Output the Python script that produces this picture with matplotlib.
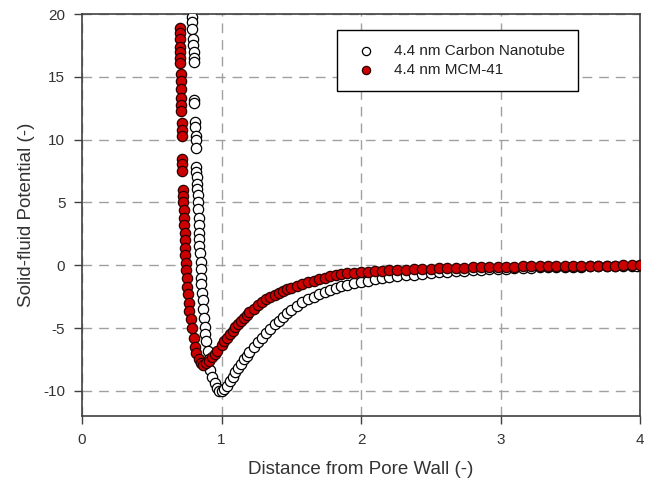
import numpy as np
import matplotlib.pyplot as plt

plt.rcParams['font.family'] = ['Liberation Sans', 'DejaVu Sans']
plt.rcParams['axes.unicode_minus'] = False

# 4.4 nm Carbon Nanotube (open circles)
cnt_x = [0.79, 0.79, 0.79, 0.795, 0.795, 0.80, 0.80, 0.80,
         0.805, 0.805,
         0.81, 0.81, 0.815, 0.815, 0.815,
         0.82, 0.82, 0.825, 0.825, 0.825, 0.83, 0.83, 0.83, 0.835, 0.835,
         0.84, 0.84, 0.84, 0.845, 0.85, 0.85, 0.855, 0.855, 0.86, 0.865,
         0.87, 0.875, 0.88, 0.885, 0.89, 0.90, 0.91, 0.92, 0.935, 0.95,
         0.965, 0.98,
         1.00, 1.02, 1.04, 1.06, 1.08, 1.10, 1.12, 1.14, 1.16, 1.18,
         1.20, 1.23, 1.26, 1.29, 1.32, 1.35, 1.38, 1.41, 1.44, 1.47,
         1.50, 1.54, 1.58, 1.62, 1.66, 1.70, 1.74, 1.78, 1.82, 1.86,
         1.90, 1.95, 2.00, 2.05, 2.10, 2.15, 2.20, 2.26, 2.32, 2.38,
         2.44, 2.50, 2.56, 2.62, 2.68, 2.74, 2.80, 2.86, 2.92, 2.98,
         3.04, 3.10, 3.16, 3.22, 3.28, 3.34, 3.40, 3.46, 3.52, 3.58,
         3.64, 3.70, 3.76, 3.82, 3.88, 3.94, 3.98]
cnt_y = [19.8, 19.4, 18.8, 18.0, 17.5, 17.0, 16.5, 16.2,
         13.2, 12.9,
         11.4, 11.0, 10.3, 10.0, 9.3,
         7.8, 7.4, 7.0, 6.5, 6.1, 5.6, 5.0, 4.5, 3.8, 3.2,
         2.6, 2.1, 1.5, 1.0, 0.3, -0.3, -1.0, -1.5, -2.2, -2.8,
         -3.5, -4.2, -4.9, -5.5, -6.0, -6.8, -7.5, -8.3, -8.9, -9.4,
         -9.8, -10.0,
         -10.0, -9.85, -9.6, -9.25, -8.9, -8.5, -8.15, -7.85, -7.5, -7.2,
         -6.9, -6.5, -6.1, -5.75, -5.4, -5.05, -4.7, -4.4, -4.1, -3.8,
         -3.55, -3.25, -2.95, -2.7, -2.5, -2.3, -2.12, -1.96, -1.82, -1.68,
         -1.56, -1.44, -1.32, -1.22, -1.12, -1.04, -0.96, -0.88, -0.81, -0.74,
         -0.68, -0.62, -0.57, -0.52, -0.47, -0.43, -0.39, -0.35, -0.32, -0.29,
         -0.26, -0.24, -0.21, -0.19, -0.17, -0.15, -0.14, -0.12, -0.11, -0.10,
         -0.09, -0.08, -0.07, -0.06, -0.05, -0.05, -0.04]

# 4.4 nm MCM-41 (red filled circles)
mcm_x = [0.70, 0.70, 0.70, 0.705, 0.705, 0.705, 0.705, 0.71, 0.71, 0.71,
         0.71, 0.71, 0.71, 0.715, 0.715, 0.715, 0.72, 0.72, 0.72, 0.725,
         0.725, 0.725, 0.73, 0.73, 0.73, 0.735, 0.735, 0.74, 0.74, 0.745,
         0.745, 0.75, 0.755, 0.76, 0.765, 0.77, 0.78, 0.79, 0.80, 0.81,
         0.82, 0.835, 0.85, 0.87, 0.89, 0.91, 0.93, 0.95,
         0.97, 1.00, 1.02, 1.04, 1.06, 1.08, 1.10, 1.12, 1.14, 1.16,
         1.18, 1.20, 1.23, 1.26, 1.29, 1.32, 1.35, 1.38, 1.41, 1.44,
         1.47, 1.50, 1.54, 1.58, 1.62, 1.66, 1.70, 1.74, 1.78, 1.82,
         1.86, 1.90, 1.95, 2.00, 2.05, 2.10, 2.15, 2.20, 2.26, 2.32,
         2.38, 2.44, 2.50, 2.56, 2.62, 2.68, 2.74, 2.80, 2.86, 2.92,
         2.98, 3.04, 3.10, 3.16, 3.22, 3.28, 3.34, 3.40, 3.46, 3.52,
         3.58, 3.64, 3.70, 3.76, 3.82, 3.88, 3.94, 4.00]
mcm_y = [18.9, 18.5, 18.0, 17.4, 17.0, 16.5, 16.1, 15.2, 14.7, 14.0,
         13.3, 12.8, 12.3, 11.3, 10.8, 10.3, 8.5, 8.1, 7.5, 6.0,
         5.5, 5.0, 4.4, 3.8, 3.2, 2.6, 2.0, 1.4, 0.8, 0.2,
         -0.4, -1.0, -1.7, -2.3, -3.0, -3.6, -4.3, -5.0, -5.8, -6.5,
         -7.0, -7.5, -7.8, -7.9, -7.8, -7.6, -7.3, -7.05,
         -6.8, -6.35, -6.05, -5.75, -5.45, -5.2, -4.95, -4.7, -4.45, -4.2,
         -3.95, -3.72, -3.45, -3.18, -2.95, -2.72, -2.52, -2.34, -2.18, -2.03,
         -1.9, -1.78, -1.63, -1.5, -1.36, -1.22, -1.1, -0.99, -0.88, -0.78,
         -0.70, -0.64, -0.58, -0.54, -0.50, -0.47, -0.44, -0.41, -0.38, -0.35,
         -0.32, -0.29, -0.26, -0.24, -0.22, -0.20, -0.18, -0.16, -0.15, -0.13,
         -0.12, -0.11, -0.10, -0.09, -0.08, -0.07, -0.06, -0.06, -0.05, -0.04,
         -0.04, -0.03, -0.03, -0.02, -0.02, -0.01, -0.01, 0.0]

fig = plt.figure(figsize=(6.52, 4.86), dpi=100)
ax = fig.add_axes([0.1258, 0.144, 0.8558, 0.827])

ax.scatter(cnt_x, cnt_y, s=55, facecolor='white', edgecolor='black',
           linewidth=0.9, zorder=3, label='4.4 nm Carbon Nanotube')
ax.scatter(mcm_x, mcm_y, s=55, facecolor='#cc0000', edgecolor='#2a0000',
           linewidth=0.9, zorder=4, label='4.4 nm MCM-41')

ax.set_xlim(0, 4)
ax.set_ylim(-12, 20)
ax.set_xticks([0, 1, 2, 3, 4])
ax.set_yticks([-10, -5, 0, 5, 10, 15, 20])

ax.grid(True, color='#a0a0a0', linestyle=(0, (7, 5)), linewidth=1.0, zorder=0)
ax.set_axisbelow(True)

for sp in ax.spines.values():
    sp.set_color('#404040')
    sp.set_linewidth(1.2)

ax.tick_params(direction='out', length=6, width=1, color='#404040',
               labelsize=11, labelcolor='#333333', pad=6)

ax.set_xlabel('Distance from Pore Wall (-)', fontsize=13.5, color='#333333', labelpad=10)
ax.set_ylabel('Solid-fluid Potential (-)', fontsize=13.5, color='#333333', labelpad=6)

leg = ax.legend(loc='upper left', bbox_to_anchor=(0.457, 0.96), borderaxespad=0,
                fancybox=False, edgecolor='black', framealpha=1, fontsize=11,
                markerscale=0.8, handlelength=2.0, handletextpad=0.8,
                borderpad=0.9, labelspacing=0.35)
leg.get_frame().set_linewidth(1.0)
for t in leg.get_texts():
    t.set_color('#222222')

fig.savefig('out.png', dpi=100)
